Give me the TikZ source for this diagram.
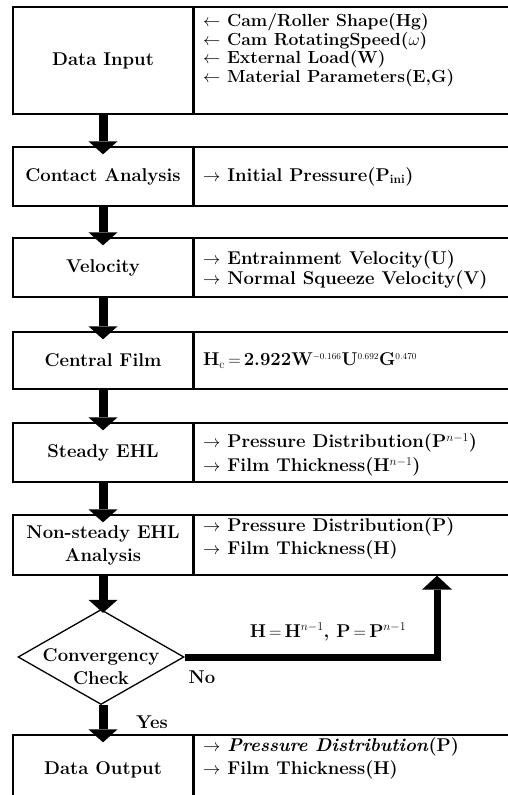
\documentclass[tikz,border=0pt]{standalone}
\usepackage{amsmath}
\usetikzlibrary{arrows.meta,shapes.geometric}

\begin{document}
\begin{tikzpicture}[x=1pt, y=-1pt, font=\bfseries\fontsize{18.5}{23}\selectfont,
  stepbox/.style={draw, line width=1.3pt, minimum width=180pt, inner sep=0pt, align=center},
  infobox/.style={draw, line width=1.3pt, minimum width=319pt, inner sep=0pt, anchor=west},
  info/.style={anchor=west, align=left, inner sep=0pt},
  flow/.style={line width=9pt, -{Triangle[width=29pt, length=13pt, line width=0pt]}, shorten >=-8pt},
  backflow/.style={line width=7pt, -{Triangle[width=30pt, length=14pt, line width=0pt]}},
  ]
  \useasboundingbox (0,0) rectangle (508,795);

  % left column and the right hand boxes
  \node[stepbox, minimum height=107pt] (input) at (103,60.5) {Data Input};
  \node[infobox, minimum height=107pt] (input-r) at (input.east) {};
  \node[stepbox, minimum height=59pt] (contact) at (103,176.5) {Contact Analysis};
  \node[infobox, minimum height=59pt] (contact-r) at (contact.east) {};
  \node[stepbox, minimum height=59pt] (velocity) at (103,267.5) {Velocity};
  \node[infobox, minimum height=59pt] (velocity-r) at (velocity.east) {};
  \node[stepbox, minimum height=57pt] (film) at (103,360.5) {Central Film};
  \node[infobox, minimum height=57pt] (film-r) at (film.east) {};
  \node[stepbox, minimum height=59pt] (steady) at (103,452.5) {Steady EHL};
  \node[infobox, minimum height=59pt] (steady-r) at (steady.east) {};
  \node[stepbox, minimum height=60pt] (nonsteady) at (103,545) {Non-steady EHL\\Analysis};
  \node[infobox, minimum height=60pt] (nonsteady-r) at (nonsteady.east) {};
  \node[draw, diamond, line width=1.3pt, minimum width=166pt, minimum height=95pt, aspect=1.75, inner sep=0pt] (check) at (101,657) {};
  \node[align=center, inner sep=0pt] (check-t) at (101,667) {Convergency\\Check};
  \node[stepbox, minimum height=70pt] (output) at (103,770) {Data Output};
  \node[infobox, minimum height=70pt] (output-r) at (output.east) {};

  % texts of the right column
  \node[info, font=\bfseries\fontsize{17.5}{16.7}\selectfont] (input-t) at (203,50)
    {$\leftarrow$ Cam/Roller Shape(Hg)\\
     $\leftarrow$ Cam RotatingSpeed($\omega$)\\
     $\leftarrow$ External Load(W)\\
     $\leftarrow$ Material Parameters(E,G)};
  \node[info] (contact-t) at (203,176.5) {$\rightarrow$ Initial Pressure(P$_{\mathbf{ini}}$)};
  \node[info, font=\bfseries\fontsize{18.5}{20.5}\selectfont] (velocity-t) at (203,270)
    {$\rightarrow$ Entrainment Velocity(U)\\ $\rightarrow$ Normal Squeeze Velocity(V)};
  \node[info] (film-t) at (203,360.5)
    {H$_{\mathrm{c}}$\,$=$\,2.922W$^{\scriptscriptstyle -0.166}$U$^{\scriptscriptstyle 0.692}$G$^{\scriptscriptstyle 0.470}$};
  \node[info, font=\bfseries\fontsize{18.5}{24}\selectfont] (steady-t) at (203,455)
    {$\rightarrow$ Pressure Distribution(P$^{n-1}$)\\ $\rightarrow$ Film Thickness(H$^{n-1}$)};
  \node[info] (nonsteady-t) at (203,538.5)
    {$\rightarrow$ Pressure Distribution(P)\\ $\rightarrow$ Film Thickness(H)};
  \node[info] (output-t) at (203,758.5)
    {$\rightarrow$ \textit{Pressure Distribution}(P)\\ $\rightarrow$ Film Thickness(H)};

  % flow
  \draw[flow] (input.south) -- (contact.north);
  \draw[flow] (contact.south) -- (velocity.north);
  \draw[flow] (velocity.south) -- (film.north);
  \draw[flow] (film.south) -- (steady.north);
  \draw[flow] (steady.south) -- (nonsteady.north);
  \draw[flow, shorten >=-4pt] (nonsteady.south) -- (nonsteady.south |- check.north);
  \draw[flow] (check.south -| output.north) -- (output.north);
  \coordinate (back) at (437,0);
  \draw[backflow] (check.east) -| (nonsteady-r.south -| back);

  \node (update) at (328,632) {H\,$=$\,H$^{n-1}$, P\,$=$\,P$^{n-1}$};
  \node (no) at (202,677) {No};
  \node (yes) at (152,722) {Yes};
\end{tikzpicture}
\end{document}
